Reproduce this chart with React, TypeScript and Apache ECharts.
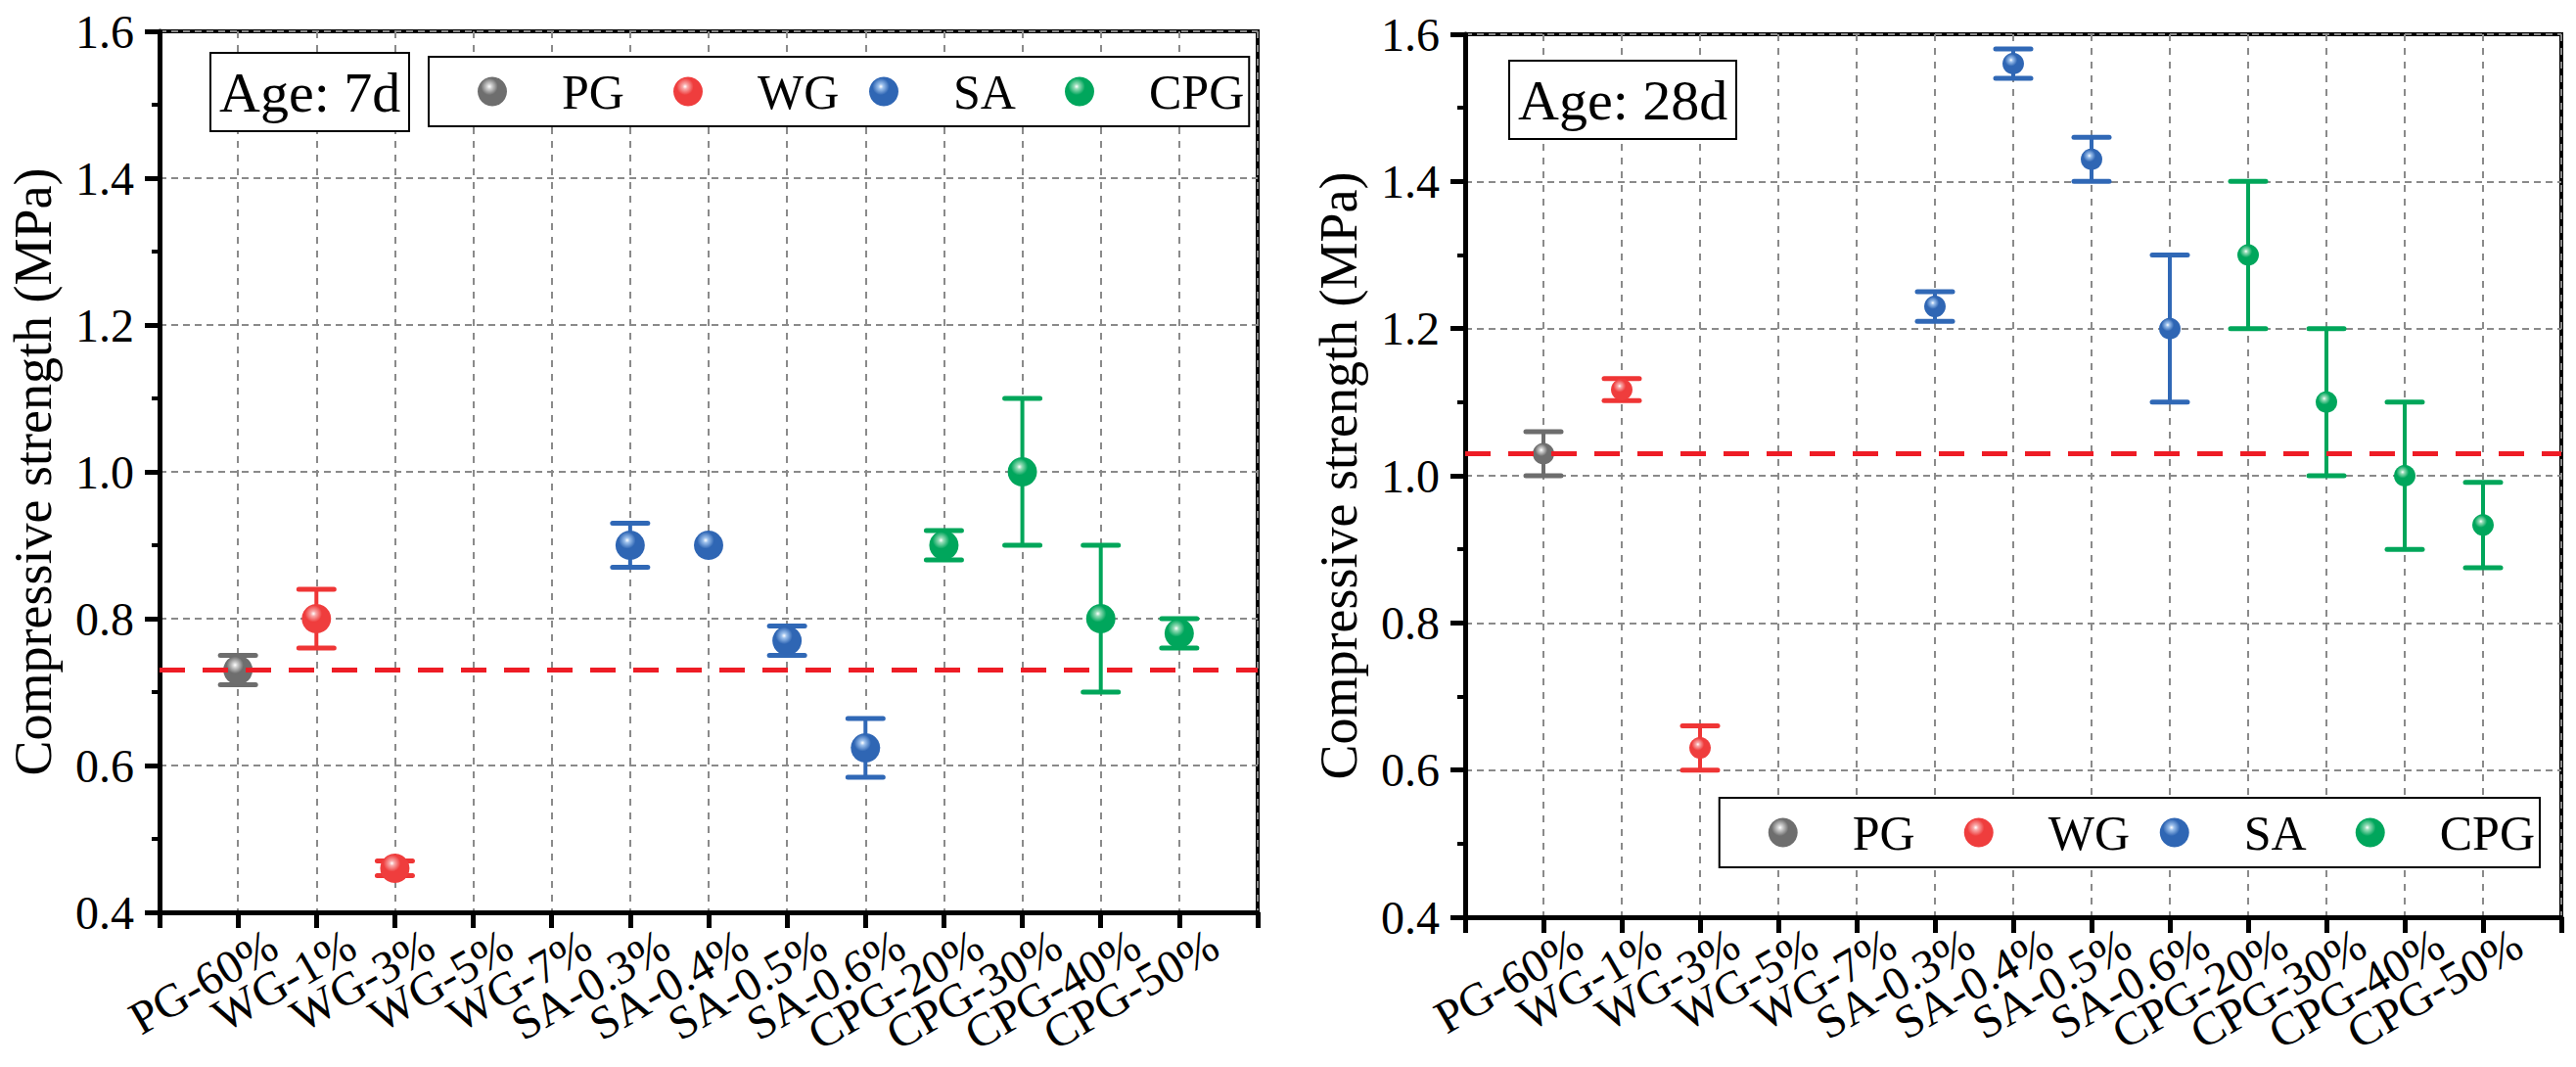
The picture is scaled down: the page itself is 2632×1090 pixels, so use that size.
import React, { useEffect, useRef } from "react";
import * as echarts from "echarts";

const FONT = "'Liberation Serif', 'Times New Roman', serif";

const categories = [
  "PG-60%", "WG-1%", "WG-3%", "WG-5%", "WG-7%",
  "SA-0.3%", "SA-0.4%", "SA-0.5%", "SA-0.6%",
  "CPG-20%", "CPG-30%", "CPG-40%", "CPG-50%",
];
const categoryGroup = [
  "PG", "WG", "WG", "WG", "WG",
  "SA", "SA", "SA", "SA",
  "CPG", "CPG", "CPG", "CPG",
];
const groups = ["PG", "WG", "SA", "CPG"];

const values7d = [0.73, 0.8, 0.46, null, null, 0.9, 0.9, 0.77, 0.624, 0.9, 1.0, 0.8, 0.78];
const errors7d = [0.02, 0.04, 0.01, null, null, 0.03, 0, 0.02, 0.04, 0.02, 0.1, 0.1, 0.02];
const values28d = [1.03, 1.117, 0.63, null, null, 1.23, 1.56, 1.43, 1.2, 1.3, 1.1, 1.0, 0.933];
const errors28d = [0.03, 0.015, 0.03, null, null, 0.02, 0.02, 0.03, 0.1, 0.1, 0.1, 0.1, 0.058];
const baseline7d = 0.73;
const baseline28d = 1.03;
const yTicks = [0.4, 0.6, 0.8, 1.0, 1.2, 1.4, 1.6];

const baseColors: Record<string, string> = { PG: "#6e6e6e", WG: "#ef3d3d", SA: "#2f66b4", CPG: "#00a65c" };
const lightColors: Record<string, string> = { PG: "#cfcfcf", WG: "#f8a9a9", SA: "#9cc0ec", CPG: "#94dcb6" };
const barColors: Record<string, string> = { PG: "#6d6d6d", WG: "#ef3535", SA: "#3068b6", CPG: "#00a65a" };

function sphere(g: string) {
  return new echarts.graphic.RadialGradient(0.4, 0.33, 0.72, [
    { offset: 0, color: "#ffffff" },
    { offset: 0.12, color: lightColors[g] },
    { offset: 0.4, color: baseColors[g] },
    { offset: 1, color: baseColors[g] },
  ]);
}

function buildPanel(idx: number, values: (number | null)[], errors: (number | null)[], baseline: number, symbolSize: number) {
  const series: any[] = [];
  groups.forEach((g) => {
    const pts: number[][] = [];
    const errs: number[][] = [];
    values.forEach((v, i) => {
      if (categoryGroup[i] !== g || v == null) return;
      pts.push([i + 1, v]);
      const e = errors[i] || 0;
      if (e > 0) errs.push([i + 1, v - e, v + e]);
    });
    series.push({
      type: "custom",
      name: g + "-err",
      xAxisIndex: idx,
      yAxisIndex: idx,
      z: 3,
      silent: true,
      encode: { x: 0, y: [1, 2] },
      data: errs,
      renderItem: (params: any, api: any) => {
        const x = api.value(0);
        const top = api.coord([x, api.value(2)]);
        const bot = api.coord([x, api.value(1)]);
        const hw = 18;
        const c = barColors[g];
        return {
          type: "group",
          children: [
            { type: "line", shape: { x1: top[0], y1: top[1], x2: bot[0], y2: bot[1] }, style: { stroke: c, lineWidth: 4 } },
            { type: "line", shape: { x1: top[0] - hw, y1: top[1], x2: top[0] + hw, y2: top[1] }, style: { stroke: c, lineWidth: 5, lineCap: "round" } },
            { type: "line", shape: { x1: bot[0] - hw, y1: bot[1], x2: bot[0] + hw, y2: bot[1] }, style: { stroke: c, lineWidth: 5, lineCap: "round" } },
          ],
        };
      },
    });
    series.push({
      type: "scatter",
      name: g,
      xAxisIndex: idx,
      yAxisIndex: idx,
      z: 4,
      symbol: "circle",
      symbolSize,
      itemStyle: { color: sphere(g), opacity: 1 },
      data: pts,
    });
  });
  series.push({
    type: "line",
    name: "baseline" + idx,
    xAxisIndex: idx,
    yAxisIndex: idx,
    z: 5,
    symbol: "none",
    silent: true,
    lineStyle: { color: "#ee1c25", width: 5, type: [26, 18] },
    data: [[0, baseline], [categories.length + 1, baseline]],
  });
  return series;
}

function xAxis(idx: number, margin: number) {
  return {
    type: "value",
    gridIndex: idx,
    min: 0,
    max: categories.length + 1,
    interval: 1,
    axisLine: { show: true, lineStyle: { color: "#000", width: 5 } },
    axisTick: { show: true, inside: false, length: 16, lineStyle: { color: "#000", width: 5 } },
    axisLabel: {
      show: true,
      rotate: 30,
      margin,
      align: "right",
      verticalAlign: "top",
      lineHeight: 50,
      padding: [0, -27, 0, 0],
      color: "#000",
      fontSize: 48,
      fontFamily: FONT,
      showMinLabel: true,
      showMaxLabel: true,
      formatter: (v: number) => categories[v - 1] || "",
    },
    splitLine: { show: true, lineStyle: { color: "#8a8a8a", width: 2, type: [7, 7] } },
  };
}

function yAxis(idx: number) {
  return {
    type: "value",
    gridIndex: idx,
    min: yTicks[0],
    max: yTicks[yTicks.length - 1],
    interval: 0.2,
    name: "Compressive strength (MPa)",
    nameLocation: "middle",
    nameRotate: 90,
    nameGap: 102,
    nameTextStyle: { fontSize: 54, fontFamily: FONT, color: "#000" },
    axisLine: { show: true, lineStyle: { color: "#000", width: 5 } },
    axisTick: { show: true, inside: false, length: 15, lineStyle: { color: "#000", width: 5 } },
    minorTick: { show: true, splitNumber: 2, length: 8, lineStyle: { color: "#000", width: 4 } },
    axisLabel: {
      color: "#000",
      fontSize: 48,
      fontFamily: FONT,
      margin: 26,
      formatter: (v: number) => v.toFixed(1),
    },
    splitLine: { show: true, lineStyle: { color: "#8a8a8a", width: 2, type: [7, 5] } },
  };
}

function legend(pos: any) {
  return {
    ...pos,
    data: groups,
    orient: "horizontal",
    icon: "circle",
    itemWidth: 30,
    itemHeight: 30,
    itemGap: 24,
    backgroundColor: "#fff",
    borderColor: "#000",
    borderWidth: 2,
    borderRadius: 0,
    padding: [8, 5, 8, 50],
    selectedMode: false,
    textStyle: {
      fontSize: 50,
      fontFamily: FONT,
      color: "#000",
      lineHeight: 55,
      width: 90,
      padding: [0, 0, 0, 51],
    },
  };
}

function ageTitle(text: string, left: number, top: number) {
  return {
    text,
    left,
    top,
    backgroundColor: "#fff",
    borderColor: "#000",
    borderWidth: 2,
    padding: [7, 9],
    textStyle: { fontSize: 58, fontWeight: "normal", fontFamily: FONT, color: "#000", lineHeight: 66 },
  };
}

export default function App() {
  const ref = useRef<HTMLDivElement>(null);
  useEffect(() => {
    if (!ref.current) return;
    const chart = echarts.init(ref.current, null, { renderer: "svg" });
    chart.setOption({
      animation: false,
      backgroundColor: "#fff",
      title: [ageTitle("Age: 7d", 215, 54), ageTitle("Age: 28d", 1542, 62)],
      legend: [legend({ left: 438, top: 58 }), legend({ right: 37, top: 815 })],
      grid: [
        { left: 163, top: 32, width: 1122, height: 900, outerBoundsMode: "none", containLabel: false, show: true, borderColor: "#000", borderWidth: 4, backgroundColor: "transparent" },
        { left: 1497, top: 35, width: 1120, height: 902, outerBoundsMode: "none", containLabel: false, show: true, borderColor: "#000", borderWidth: 4, backgroundColor: "transparent" },
      ],
      xAxis: [xAxis(0, 21), xAxis(1, 15)],
      yAxis: [yAxis(0), yAxis(1)],
      series: [
        ...buildPanel(0, values7d, errors7d, baseline7d, 30),
        ...buildPanel(1, values28d, errors28d, baseline28d, 22),
      ],
    });
    return () => chart.dispose();
  }, []);
  return <div ref={ref} style={{ position: "fixed", left: 0, top: 0, width: 2632, height: 1090, background: "#fff" }} />;
}
